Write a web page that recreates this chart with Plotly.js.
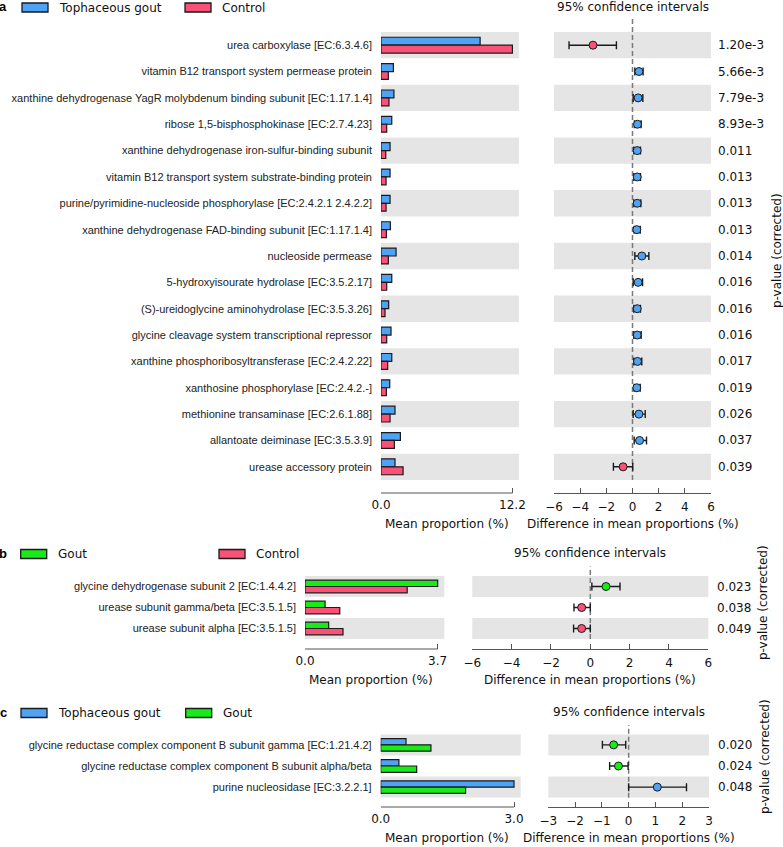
<!DOCTYPE html>
<html><head><meta charset="utf-8">
<script src="https://cdn.plot.ly/plotly-3.0.1.min.js"></script>
<style>html,body{margin:0;padding:0;background:#fff}</style>
</head><body><div id="chart" style="width:783px;height:847px"></div>
<script>
// ---------- Panel a: Tophaceous gout vs Control ----------
const catsA = [
  "urea carboxylase [EC:6.3.4.6]",
  "vitamin B12 transport system permease protein",
  "xanthine dehydrogenase YagR molybdenum binding subunit [EC:1.17.1.4]",
  "ribose 1,5-bisphosphokinase [EC:2.7.4.23]",
  "xanthine dehydrogenase iron-sulfur-binding subunit",
  "vitamin B12 transport system substrate-binding protein",
  "purine/pyrimidine-nucleoside phosphorylase [EC:2.4.2.1 2.4.2.2]",
  "xanthine dehydrogenase FAD-binding subunit [EC:1.17.1.4]",
  "nucleoside permease",
  "5-hydroxyisourate hydrolase [EC:3.5.2.17]",
  "(S)-ureidoglycine aminohydrolase [EC:3.5.3.26]",
  "glycine cleavage system transcriptional repressor",
  "xanthine phosphoribosyltransferase [EC:2.4.2.22]",
  "xanthosine phosphorylase [EC:2.4.2.-]",
  "methionine transaminase [EC:2.6.1.88]",
  "allantoate deiminase [EC:3.5.3.9]",
  "urease accessory protein"
];
const tophaceousA = [9.2,1.15,1.2,1.0,0.84,0.84,0.84,0.87,1.4,1.0,0.71,0.93,1.0,0.81,1.3,1.8,1.3];
const controlA    = [12.2,0.68,0.74,0.53,0.44,0.47,0.47,0.5,0.68,0.53,0.37,0.53,0.62,0.5,0.84,1.24,2.05];
const diffA = [-3.02,0.49,0.43,0.38,0.36,0.36,0.36,0.33,0.71,0.43,0.36,0.36,0.38,0.33,0.49,0.54,-0.72];
const lowA  = [-4.85,0.18,0.05,0.15,0.1,0.1,0.1,0.13,0.18,0.05,0.1,0.1,0.1,0.13,0.05,0.13,-1.46];
const highA = [-1.23,0.81,0.79,0.66,0.61,0.61,0.64,0.59,1.25,0.77,0.61,0.66,0.71,0.59,0.97,1.07,0.02];
const pA = ["1.20e-3","5.66e-3","7.79e-3","8.93e-3","0.011","0.013","0.013","0.013","0.014","0.016","0.016","0.016","0.017","0.019","0.026","0.037","0.039"];

// ---------- Panel b: Gout vs Control ----------
const catsB = [
  "glycine dehydrogenase subunit 2 [EC:1.4.4.2]",
  "urease subunit gamma/beta [EC:3.5.1.5]",
  "urease subunit alpha [EC:3.5.1.5]"
];
const goutB    = [3.7,0.56,0.66];
const controlB = [2.85,0.97,1.06];
const diffB = [0.8,-0.44,-0.44];
const lowB  = [0.08,-0.83,-0.85];
const highB = [1.51,0.0,0.0];
const pB = ["0.023","0.038","0.049"];

// ---------- Panel c: Tophaceous gout vs Gout ----------
const catsC = [
  "glycine reductase complex component B subunit gamma [EC:1.21.4.2]",
  "glycine reductase complex component B subunit alpha/beta",
  "purine nucleosidase [EC:3.2.2.1]"
];
const tophaceousC = [0.57,0.41,3.0];
const goutC       = [1.13,0.81,1.91];
const diffC = [-0.56,-0.38,1.07];
const lowC  = [-0.98,-0.71,0.0];
const highC = [-0.11,-0.02,2.16];
const pC = ["0.020","0.024","0.048"];

const ciTicksWide = [-6,-4,-2,0,2,4,6];
const ciTicksNarrow = [-3,-2,-1,0,1,2,3];

// ---------- styling / layout ----------
const W = 783, H = 847;
const px = v => v / W;
const py = v => 1 - v / H;
const BLUE = '#4fa3f5', RED = '#fa5179', GREEN = '#19ea19';
const EDGE = '#1a1a1a';
const catFont = {family:'Liberation Sans, Arial, sans-serif', size:11, color:'#222222'};
const txtFont = {family:'DejaVu Sans, sans-serif', size:12, color:'#111111'};

const panels = [
  {letter:'a', cats:catsA, g1:{name:'Tophaceous gout', vals:tophaceousA, color:BLUE}, g2:{name:'Control', vals:controlA, color:RED},
   diff:diffA, low:lowA, high:highA, p:pA, ciTicks:ciTicksWide,
   geo:{barX:[381,519], ciX:[554,711], y:[32,480], axisY:493, titleY:524, ciTitleY:7, zeroTop:18, pX:716, pvX:777, pvY:251, legY:7.5, leg1X:22, leg2X:185}},
  {letter:'b', cats:catsB, g1:{name:'Gout', vals:goutB, color:GREEN}, g2:{name:'Control', vals:controlB, color:RED},
   diff:diffB, low:lowB, high:highB, p:pB, ciTicks:ciTicksWide,
   geo:{barX:[305,444.3], ciX:[472.3,708.3], y:[576,639], axisY:649, titleY:680, ciTitleY:553, zeroTop:566.5, pX:715, pvX:763, pvY:603, legY:554, leg1X:20.7, leg2X:219}},
  {letter:'c', cats:catsC, g1:{name:'Tophaceous gout', vals:tophaceousC, color:BLUE}, g2:{name:'Gout', vals:goutC, color:GREEN},
   diff:diffC, low:lowC, high:highC, p:pC, ciTicks:ciTicksNarrow,
   geo:{barX:[380.7,520.7], ciX:[548.3,709], y:[734.3,797.7], axisY:807, titleY:838, ciTitleY:712, zeroTop:725, pX:715.5, pvX:765, pvY:757, legY:713, leg1X:21, leg2X:185.7}}
];

const layout = {
  width:W, height:H, margin:{l:0,r:0,t:0,b:0},
  paper_bgcolor:'#ffffff', plot_bgcolor:'rgba(0,0,0,0)',
  showlegend:false, barmode:'group', bargap:0.4, bargroupgap:0,
  font:txtFont, shapes:[], annotations:[]
};
const traces = [];

panels.forEach((P, k) => {
  const G = P.geo;
  const bi = 2*k+1, ci = 2*k+2;
  const bx = bi === 1 ? 'x' : 'x'+bi, by = bi === 1 ? 'y' : 'y'+bi;
  const cx = 'x'+ci, cy = 'y'+ci;
  const n = P.cats.length;
  const yDom = [py(G.y[1]), py(G.y[0])];
  const maxV = Math.max(...P.g1.vals, ...P.g2.vals);
  const barDom = [px(G.barX[0]), px(G.barX[1])];
  const ciDom = [px(G.ciX[0]), px(G.ciX[1])];
  const ciRange = [P.ciTicks[0], P.ciTicks[P.ciTicks.length-1]];

  layout[bi === 1 ? 'xaxis' : 'xaxis'+bi] = {
    domain:barDom, range:[0, maxV*1.05], anchor:'free', position:py(G.axisY),
    showgrid:false, zeroline:false, showline:false,
    ticks:'inside', ticklen:5, tickwidth:1, tickcolor:'#555', ticklabelstandoff:3,
    tickvals:[0, maxV], ticktext:[0, maxV].map(v => v.toFixed(1)), tickfont:txtFont, fixedrange:true
  };
  layout[bi === 1 ? 'yaxis' : 'yaxis'+bi] = {
    domain:yDom, anchor:bx, type:'category', categoryorder:'array', categoryarray:P.cats,
    range:[n-0.5, -0.5], showgrid:false, zeroline:false, showline:false, ticks:'',
    tickfont:catFont, ticklabelstandoff:8, fixedrange:true
  };
  layout['xaxis'+ci] = {
    domain:ciDom, range:ciRange, anchor:'free', position:py(G.axisY),
    showgrid:false, zeroline:false, showline:true, linecolor:'#555', linewidth:1,
    ticks:'inside', ticklen:5, tickwidth:1, tickcolor:'#555', ticklabelstandoff:3,
    tickvals:P.ciTicks, tickfont:txtFont, fixedrange:true
  };
  layout['yaxis'+ci] = {
    domain:yDom, anchor:cx, type:'category', categoryorder:'array', categoryarray:P.cats,
    range:[n-0.5, -0.5], showgrid:false, zeroline:false, showline:false, ticks:'',
    showticklabels:false, fixedrange:true
  };

  // alternating grey bands
  for (let i = 0; i < n; i += 2) {
    [barDom, ciDom].forEach((dom, j) => {
      layout.shapes.push({type:'rect', layer:'below', xref:'paper', x0:dom[0], x1:dom[1],
        yref: j === 0 ? by : cy, y0:i-0.5, y1:i+0.5, fillcolor:'#e5e5e5', line:{width:0}});
    });
  }
  // bar-axis spine from 0 to max
  layout.shapes.push({type:'line', layer:'below', xref:bx, x0:0, x1:maxV, yref:'paper',
    y0:py(G.axisY), y1:py(G.axisY), line:{color:'#555', width:1}});
  // dashed zero line
  layout.shapes.push({type:'line', layer:'below', xref:cx, x0:0, x1:0, yref:'paper',
    y0:py(G.y[1]), y1:py(G.zeroTop), line:{color:'#7a7a7a', width:1.5, dash:'5px,3px'}});

  // bars
  [P.g1, P.g2].forEach(g => {
    traces.push({type:'bar', orientation:'h', y:P.cats, x:g.vals, xaxis:bx, yaxis:by, name:g.name,
      marker:{color:g.color, line:{color:EDGE, width:1.2}}, hoverinfo:'x+y'});
  });
  // CI points
  traces.push({type:'scatter', mode:'markers', x:P.diff, y:P.cats, xaxis:cx, yaxis:cy, cliponaxis:false,
    marker:{size:8, color:P.diff.map(d => d < 0 ? P.g2.color : P.g1.color), line:{color:EDGE, width:1}},
    error_x:{type:'data', symmetric:false, array:P.high.map((h,i) => h - P.diff[i]),
      arrayminus:P.low.map((l,i) => P.diff[i] - l), color:EDGE, thickness:1.4, width:4}});

  // texts
  const A = layout.annotations;
  A.push({xref:cx, x:(ciRange[0]+ciRange[1])/2, yref:'paper', y:py(G.ciTitleY), text:'95% confidence intervals',
    showarrow:false, xanchor:'center', yanchor:'middle', font:txtFont});
  A.push({xref:bx, x:maxV/2, yref:'paper', y:py(G.titleY), text:'Mean proportion (%)',
    showarrow:false, xanchor:'center', yanchor:'middle', font:txtFont});
  A.push({xref:cx, x:(ciRange[0]+ciRange[1])/2, yref:'paper', y:py(G.titleY), text:'Difference in mean proportions (%)',
    showarrow:false, xanchor:'center', yanchor:'middle', font:txtFont});
  P.p.forEach((t, i) => A.push({xref:'paper', x:px(G.pX), yref:cy, y:i, text:t, showarrow:false,
    xanchor:'left', yanchor:'middle', font:txtFont}));
  A.push({xref:'paper', yref:'paper', x:px(G.pvX), y:py(G.pvY), text:'p-value (corrected)', textangle:-90,
    showarrow:false, xanchor:'center', yanchor:'middle', font:txtFont});

  // legend
  A.push({xref:'paper', yref:'paper', x:px(8.5), y:py(G.legY - 0.5), text:'<b>'+P.letter+'</b>', showarrow:false,
    xanchor:'right', yanchor:'middle', font:{family:'Liberation Sans, Arial, sans-serif', size:13, color:'#000'}});
  [[P.g1, G.leg1X], [P.g2, G.leg2X]].forEach(([g, lx]) => {
    layout.shapes.push({type:'rect', xref:'paper', yref:'paper', x0:px(lx), x1:px(lx+26),
      y0:py(G.legY+4.5), y1:py(G.legY-4.5), fillcolor:g.color, line:{color:EDGE, width:1.3}});
    A.push({xref:'paper', yref:'paper', x:px(lx+35), y:py(G.legY), text:g.name, showarrow:false,
      xanchor:'left', yanchor:'middle', font:txtFont});
  });
});

Plotly.newPlot('chart', traces, layout, {displayModeBar:false, staticPlot:false});
</script>
</body></html>
